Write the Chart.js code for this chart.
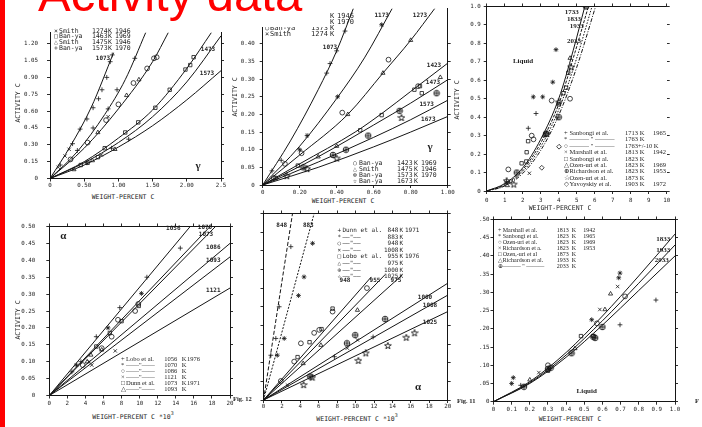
<!DOCTYPE html>
<html>
<head>
<meta charset="utf-8">
<title>Activity data</title>
<script src="https://cdn.jsdelivr.net/npm/chart.js@4.4.1/dist/chart.umd.min.js"></script>
<style>
  body { margin: 0; width: 702px; height: 427px; overflow: hidden; background: #fff; position: relative; }
  canvas { position: absolute; }
  .t { position: absolute; white-space: pre; color: #1e1e1e; }
</style>
</head>
<body>
<script>
// ---------- panel 1 : gamma, activity vs wt% C (0 - 2.5) ----------
const p1XTicks = [0, 0.5, 1, 1.5, 2, 2.5];
const p1XLabels = ['0', '0.50', '1.00', '1.50', '2.00', '2.5'];
const p1YTicks = [0, 0.15, 0.3, 0.45, 0.6, 0.75, 0.9, 1.05, 1.2];
const p1YLabels = ['0', '0.15', '0.30', '0.45', '0.60', '0.75', '0.90', '1.05', '1.20'];
const p1C1073 = [[0, 0], [0.3, 0.29], [0.6, 0.63], [0.93, 1.12]];
const p1C1173 = [[0, 0], [0.4, 0.24], [0.8, 0.57], [1.1, 0.88], [1.4, 1.3]];
const p1C1273 = [[0, 0], [0.5, 0.27], [1.0, 0.62], [1.5, 1.04], [1.73, 1.3]];
const p1C1373 = [[0, 0], [0.5, 0.15], [1.0, 0.36], [1.5, 0.61], [2.0, 0.98], [2.36, 1.3]];
const p1C1473 = [[0, 0], [0.5, 0.14], [1.0, 0.32], [1.5, 0.55], [2.0, 0.86], [2.5, 1.27]];
const p1C1573 = [[0, 0], [0.5, 0.12], [1.0, 0.28], [1.5, 0.47], [2.0, 0.7], [2.5, 0.96]];
const p1Plus = [[0.33, 0.31], [0.44, 0.44], [0.54, 0.53], [0.63, 0.63], [0.71, 0.71], [0.76, 0.79], [0.83, 0.9], [0.88, 1.04], [0.91, 1.1],
  [0.15, 0.12], [0.4, 0.25], [0.63, 0.45], [0.85, 0.62], [0.98, 0.79], [1.24, 1.07], [0.54, 0.14], [0.9, 0.27], [1.15, 0.35]];
const p1Times = [[0.12, 0.1], [0.22, 0.2], [0.28, 0.26], [0.85, 0.55], [0.75, 0.21]];
const p1Square = [[0.8, 0.27], [1.1, 0.41], [1.29, 0.5], [1.54, 0.63], [1.75, 0.79], [1.98, 0.97], [2.05, 1.01], [2.1, 1.08], [0.45, 0.12], [0.55, 0.14], [0.7, 0.19]];
const p1Circle = [[0.3, 0.17], [0.55, 0.32], [0.82, 0.52], [1.0, 0.66], [1.22, 0.85], [1.42, 0.98], [1.52, 1.07], [1.56, 1.08]];
const p1Tri = [[0.7, 0.41], [1.12, 0.74], [1.3, 0.88], [0.62, 0.16], [0.95, 0.26], [0.35, 0.08]];

// ---------- panel 2 : gamma, 0 - 1.0 wt% C ----------
const p2XTicks = [0, 0.2, 0.4, 0.6, 0.8, 1.0];
const p2XLabels = ['0', '0.20', '0.40', '0.60', '0.80', '1.00'];
const p2YTicks = [0, 0.05, 0.1, 0.15, 0.2, 0.25, 0.3, 0.35, 0.4];
const p2YLabels = ['0', '0.05', '0.10', '0.15', '0.20', '0.25', '0.30', '0.35', '0.40'];
const p2C1073 = [[0, 0], [0.15, 0.125], [0.3, 0.27], [0.4, 0.38], [0.49, 0.5]];
const p2C1173 = [[0, 0], [0.2, 0.11], [0.4, 0.245], [0.55, 0.36], [0.7, 0.5]];
const p2C1273 = [[0, 0], [0.2, 0.085], [0.46, 0.2], [0.65, 0.317], [0.8, 0.41], [0.93, 0.5]];
const p2C1423 = [[0, 0], [0.2, 0.06], [0.5, 0.15], [0.65, 0.205], [0.8, 0.265], [1.0, 0.345]];
const p2C1473 = [[0, 0], [0.3, 0.08], [0.6, 0.17], [0.8, 0.232], [1.0, 0.298]];
const p2C1573 = [[0, 0], [0.3, 0.065], [0.6, 0.135], [0.8, 0.185], [1.0, 0.24]];
const p2C1673 = [[0, 0], [0.3, 0.05], [0.6, 0.108], [0.8, 0.15], [1.0, 0.194]];
const p2Plus = [[0.346, 0.317], [0.364, 0.344], [0.4, 0.38], [0.445, 0.436], [0.05, 0.04], [0.1, 0.07]];
const p2Ast = [[0.24, 0.14], [0.405, 0.25], [0.643, 0.454], [0.2, 0.1]];
const p2Circle = [[0.43, 0.205], [0.68, 0.355], [0.21, 0.09], [0.12, 0.06], [0.84, 0.28], [0.06, 0.02]];
const p2Square = [[0.527, 0.155], [0.643, 0.198], [0.82, 0.27], [0.85, 0.28], [0.19, 0.055], [0.07, 0.02], [0.86, 0.26]];
const p2Tri = [[0.4, 0.11], [0.46, 0.2], [0.8, 0.41], [0.96, 0.305], [0.3, 0.08], [0.65, 0.317]];
const p2Oplus = [[0.45, 0.1], [0.57, 0.14], [0.74, 0.21], [0.94, 0.26], [0.38, 0.085], [0.22, 0.05]];
const p2Star = [[0.13, 0.025], [0.24, 0.045], [0.4, 0.075], [0.75, 0.19]];

// ---------- panel 3 : liquid, 0 - 10 wt% C ----------
const p3XTicks = [0, 1, 2, 3, 4, 5, 6, 7, 8, 9, 10];
const p3XLabels = ['0', '1', '2', '3', '4', '5', '6', '7', '8', '9', '10'];
const p3YTicks = [0, 0.1, 0.2, 0.3, 0.4, 0.5, 0.6, 0.7, 0.8, 0.9, 1.0];
const p3YLabels = ['0', '0.1', '0.2', '0.3', '0.4', '0.5', '0.6', '0.7', '0.8', '0.9', '1.0'];
const p3C1733 = [[0, 0], [1, 0.04], [2, 0.125], [3, 0.28], [4, 0.5], [4.8, 0.76], [5.45, 1.0]];
const p3C1833 = [[0, 0], [1, 0.035], [2, 0.115], [3, 0.26], [4, 0.47], [4.9, 0.75], [5.65, 1.0]];
const p3C1933 = [[0, 0], [1, 0.03], [2, 0.105], [3, 0.24], [4, 0.44], [5, 0.72], [5.85, 1.0]];
const p3C2033 = [[0, 0], [1, 0.027], [2, 0.095], [3, 0.22], [4, 0.41], [5, 0.67], [6.05, 1.0]];
const p3Plus = [[2.74, 0.42], [2.31, 0.34], [1.1, 0.05]];
const p3Ast = [[3.85, 0.766], [3.67, 0.59], [2.59, 0.51], [3.11, 0.51]];
const p3Circle = [[3.61, 0.49], [4.63, 0.5], [2.5, 0.3], [1.2, 0.117], [2.6, 0.28]];
const p3Times = [[2.37, 0.096]];
const p3Square = [[2.22, 0.21], [2.3, 0.27], [4.53, 0.64], [4.41, 0.56], [4.26, 0.53], [2.2, 0.16], [4.0, 0.47], [1.94, 0.15]];
const p3Tri = [[4.63, 0.72], [1.15, 0.03], [3.2, 0.3]];
const p3Oplus = [[4.0, 0.4], [5.52, 1.0], [3.3, 0.31], [1.67, 0.1]];
const p3Star = [[4.68, 0.67], [1.5, 0.035], [3.33, 0.31], [4.0, 0.48], [1.11, 0.054]];
const p3Dia = [[4.02, 0.24], [3.06, 0.126]];

// ---------- panel 4 : alpha, wt% C * 10^3 ----------
const p4XTicks = [0, 2, 4, 6, 8, 10, 12, 14, 16, 18, 20];
const p4XLabels = ['0', '2', '4', '6', '8', '10', '12', '14', '16', '18', '20'];
const p4YTicks = [0, 0.05, 0.1, 0.15, 0.2, 0.25, 0.3, 0.35, 0.4, 0.45, 0.5];
const p4YLabels = ['0', '0.05', '0.10', '0.15', '0.20', '0.25', '0.30', '0.35', '0.40', '0.45', '0.50'];
const p4L1056 = [[0, 0], [15.6, 0.5]];
const p4L1070 = [[0, 0], [17.8, 0.5]];
const p4L1073 = [[0, 0], [18.4, 0.5]];
const p4L1086 = [[0, 0], [20, 0.45]];
const p4L1093 = [[0, 0], [20, 0.41]];
const p4L1121 = [[0, 0], [20, 0.318]];
const p4Plus = [[14.5, 0.436], [10.8, 0.35], [7.8, 0.26], [5.2, 0.174], [2.5, 0.07], [3.5, 0.1]];
const p4Ast = [[10.2, 0.302], [6.5, 0.2], [3.0, 0.09]];
const p4Circle = [[9.85, 0.271], [7.6, 0.224], [6.9, 0.174], [9.5, 0.25], [5.8, 0.14], [3.7, 0.09]];
const p4Times = [[7.3, 0.132], [4.7, 0.09], [4.4, 0.1]];
const p4Square = [[8.0, 0.22], [6.7, 0.185], [5.2, 0.145], [9.9, 0.265]];
const p4Tri = [[4.2, 0.1], [5.8, 0.135], [4.6, 0.12]];

// ---------- panel 5 : alpha, lower temperatures ----------
const p5XTicks = p4XTicks;
const p5XLabels = p4XLabels;
const p5YTicks = p4YTicks;
const p5L848 = [[0, 0], [3.15, 0.5]];
const p5L883 = [[0, 0], [5.5, 0.5]];
const p5L948 = [[0, 0], [11.7, 0.33]];
const p5L955 = [[0, 0], [13.2, 0.336]];
const p5L975 = [[0, 0], [15.1, 0.336]];
const p5L1000 = [[0, 0], [20, 0.313]];
const p5L1008 = [[0, 0], [20, 0.281]];
const p5L1025 = [[0, 0], [20, 0.237]];
const p5Plus = [[2.97, 0.411], [1.7, 0.25], [1.34, 0.165], [0.8, 0.12], [11.9, 0.169], [7.7, 0.116]];
const p5Ast = [[5.33, 0.42], [4.4, 0.33], [3.8, 0.28], [2.25, 0.165], [1.5, 0.12]];
const p5Circle = [[11.23, 0.3], [7.5, 0.237], [6.05, 0.188], [4.06, 0.152], [3.33, 0.103], [1.88, 0.051], [5.5, 0.18]];
const p5Times = [[10.2, 0.161], [9.1, 0.139], [2.6, 0.04]];
const p5Square = [[7.5, 0.245], [6.3, 0.19], [5.0, 0.155], [3.7, 0.115]];
const p5Tri = [[10.2, 0.241], [6.23, 0.147], [4.31, 0.098]];
const p5Oplus = [[13.2, 0.217], [9.96, 0.174], [9.06, 0.152], [5.07, 0.063]];
const p5Star = [[16.4, 0.179], [15.5, 0.167], [13.5, 0.145], [11.1, 0.125], [10.3, 0.105], [5.3, 0.06], [4.35, 0.04]];

// ---------- panel 6 : liquid, 0 - 1.0 wt% C ----------
const p6XTicks = [0, 0.1, 0.2, 0.3, 0.4, 0.5, 0.6, 0.7, 0.8, 0.9, 1.0];
const p6XLabels = ['0', '0.1', '0.2', '0.3', '0.4', '0.5', '0.6', '0.7', '0.8', '0.9', '1.0'];
const p6YTicks = p4YTicks;
const p6YLabels = p4YLabels;
const p6C1833 = [[0, 0], [0.2, 0.055], [0.4, 0.135], [0.6, 0.235], [0.8, 0.345], [1.0, 0.46]];
const p6C1933 = [[0, 0], [0.2, 0.052], [0.4, 0.128], [0.6, 0.222], [0.8, 0.325], [1.0, 0.43]];
const p6C2033 = [[0, 0], [0.2, 0.05], [0.4, 0.122], [0.6, 0.21], [0.8, 0.305], [1.0, 0.4]];
const p6Plus = [[0.697, 0.211], [0.895, 0.279], [0.15, 0.045]];
const p6Ast = [[0.697, 0.353], [0.69, 0.34], [0.541, 0.225], [0.109, 0.066], [0.1, 0.05]];
const p6Circle = [[0.725, 0.289], [0.57, 0.215], [0.3, 0.1]];
const p6Times = [[0.586, 0.253], [0.684, 0.316], [0.25, 0.08]];
const p6Square = [[0.482, 0.18], [0.3, 0.085], [0.55, 0.18]];
const p6Tri = [[0.645, 0.296], [0.614, 0.253], [0.449, 0.146], [0.2, 0.06]];
const p6Oplus = [[0.6, 0.205], [0.55, 0.178], [0.43, 0.133], [0.315, 0.093], [0.168, 0.041], [0.3, 0.09], [0.56, 0.175]];

const INK = '#151515';
const MONO = "'DejaVu Sans Mono', monospace";
const SERIF = "'Liberation Serif', 'DejaVu Serif', serif";

// symbols chart.js has no built-in style for
function mark(kind) {
  const c = document.createElement('canvas');
  c.width = c.height = 8;
  const g = c.getContext('2d');
  g.strokeStyle = INK; g.lineWidth = 0.9;
  g.beginPath();
  if (kind === 'oplus') {
    g.arc(4, 4, 2.8, 0, Math.PI * 2);
    g.moveTo(1.2, 4); g.lineTo(6.8, 4); g.moveTo(4, 1.2); g.lineTo(4, 6.8);
  } else {
    for (let i = 0; i < 10; i++) {
      const r = i % 2 ? 1.4 : 3.5, a = -Math.PI / 2 + i * Math.PI / 5;
      g.lineTo(4 + r * Math.cos(a), 4 + r * Math.sin(a));
    }
    g.closePath();
  }
  g.stroke();
  return c;
}
const STYLE = { plus: 'cross', times: 'crossRot', ast: 'star', circ: 'circle', sq: 'rect', tri: 'triangle', dia: 'rectRot', oplus: mark('oplus'), star5: mark('star5') };

function panel(p) {
  const cl = Math.floor(p.box.l - p.pad.l), ct = Math.floor(p.box.t - p.pad.t);
  const W = Math.ceil(p.box.r + p.pad.r) - cl, H = Math.ceil(p.box.b + p.pad.b) - ct;
  const L = p.box.l - cl, T = p.box.t - ct, R = cl + W - p.box.r, B = ct + H - p.box.b;
  const cv = document.createElement('canvas');
  cv.width = W; cv.height = H;
  Object.assign(cv.style, { left: cl + 'px', top: ct + 'px', width: W + 'px', height: H + 'px' });
  document.body.appendChild(cv);

  const pts = a => a.map(([x, y]) => ({ x, y }));
  const datasets = p.curves.map(c => ({
    data: pts(c.pts), showLine: true, pointRadius: 0, borderColor: INK, borderWidth: 1,
    borderDash: c.dash || [], cubicInterpolationMode: 'monotone'
  })).concat(p.marks.map(m => ({
    data: pts(m.pts), showLine: false, pointStyle: STYLE[m.s], pointRadius: 2.4,
    borderColor: INK, borderWidth: 0.8, backgroundColor: 'rgba(0,0,0,0)'
  })));

  const axis = (a, pos, size, labels, border) => ({
    type: 'linear', position: pos, axis: (pos === 'top' || pos === 'bottom') ? 'x' : 'y',
    min: a.min, max: a.max,
    afterBuildTicks: s => { s.ticks = a.ticks.map(v => ({ value: v })); },
    afterFit: s => { if (pos === 'left' || pos === 'right') s.width = size; else s.height = size; },
    ticks: {
      display: labels, autoSkip: false, maxRotation: 0, minRotation: 0, padding: a.pad || 0,
      color: '#1e1e1e', font: { family: MONO, size: 5.8 }, callback: (v, i) => (a.labels ? a.labels[i] : '')
    },
    grid: { drawOnChartArea: false, tickLength: 3, color: INK, lineWidth: 0.9 },
    border: { display: border, color: INK, width: 1 }
  });
  const scales = {
    x: axis(p.x, 'bottom', B, true, true),
    y: axis(p.y, 'left', L, p.yLabels !== false, true),
    y2: axis(p.y, 'right', R, false, p.rightBorder !== false)
  };
  if (p.top) scales.x2 = axis(p.x, 'top', T, false, true);

  new Chart(cv, {
    type: 'scatter',
    data: { datasets },
    options: {
      responsive: false, animation: false, devicePixelRatio: 1, events: [],
      layout: { padding: { top: p.top ? 0 : T } },
      plugins: { legend: { display: false }, tooltip: { enabled: false } },
      scales
    }
  });
}

function txt(s, x, y, o = {}) {
  const d = document.createElement('div');
  const size = o.size || 6;
  d.className = 't';
  if (o.html) d.innerHTML = s; else d.textContent = s;
  d.style.left = x + 'px';
  d.style.top = (y - size / 2) + 'px';
  d.style.fontSize = size + 'px';
  d.style.lineHeight = size + 'px';
  d.style.fontFamily = o.font || MONO;
  d.style.fontWeight = o.bold ? 'bold' : 'normal';
  if (o.color) d.style.color = o.color;
  if (o.align === 'c') d.style.transform = 'translateX(-50%)';
  if (o.rot) { d.style.top = y + 'px'; d.style.transform = 'translate(-50%,-50%) rotate(-90deg)'; }
  document.body.appendChild(d);
}
function legend(rows, cols, y0, dy, o) {
  rows.forEach((r, i) => r.forEach((s, j) => { if (s) txt(s, cols[j], y0 + i * dy, o); }));
}
const lbl = (list, o) => list.forEach(([s, x, y]) => txt(s, x, y, Object.assign({ align: 'c', bold: true, size: 6 }, o)));

// ---------- charts ----------
panel({
  box: { l: 50, t: 30.3, r: 221, b: 179 }, pad: { l: 40, t: 10, r: 10, b: 12 },
  x: { min: 0, max: 2.5, ticks: p1XTicks, labels: p1XLabels, pad: 0 },
  y: { min: 0, max: 1.3, ticks: p1YTicks, labels: p1YLabels, pad: 9 },
  curves: [{ pts: p1C1073 }, { pts: p1C1173 }, { pts: p1C1273 }, { pts: p1C1373 }, { pts: p1C1473 }, { pts: p1C1573 }],
  marks: [{ pts: p1Plus, s: 'plus' }, { pts: p1Times, s: 'times' }, { pts: p1Square, s: 'sq' }, { pts: p1Circle, s: 'circ' }, { pts: p1Tri, s: 'tri' }]
});
panel({
  box: { l: 262.7, t: 6, r: 447.7, b: 185 }, pad: { l: 30, t: 6, r: 10, b: 12 },
  x: { min: 0, max: 1.0, ticks: p2XTicks, labels: p2XLabels, pad: 1.5 },
  y: { min: 0, max: 0.5, ticks: p2YTicks, labels: p2YLabels, pad: 5 },
  curves: [{ pts: p2C1073 }, { pts: p2C1173 }, { pts: p2C1273 }, { pts: p2C1423 }, { pts: p2C1473 }, { pts: p2C1573 }, { pts: p2C1673 }],
  marks: [{ pts: p2Plus, s: 'plus' }, { pts: p2Ast, s: 'ast' }, { pts: p2Circle, s: 'circ' }, { pts: p2Square, s: 'sq' },
    { pts: p2Tri, s: 'tri' }, { pts: p2Oplus, s: 'oplus' }, { pts: p2Star, s: 'star5' }]
});
panel({
  box: { l: 486.7, t: 6, r: 666.7, b: 191 }, pad: { l: 22, t: 6, r: 10, b: 14 }, top: true, rightBorder: false,
  x: { min: 0, max: 10, ticks: p3XTicks, labels: p3XLabels, pad: 3 },
  y: { min: 0, max: 1.0, ticks: p3YTicks, labels: p3YLabels, pad: 3 },
  curves: [{ pts: p3C1733 }, { pts: p3C1833, dash: [3, 1.5] }, { pts: p3C1933, dash: [1.5, 1.5] }, { pts: p3C2033, dash: [4, 1.5, 1, 1.5] }],
  marks: [{ pts: p3Plus, s: 'plus' }, { pts: p3Ast, s: 'ast' }, { pts: p3Circle, s: 'circ' }, { pts: p3Times, s: 'times' }, { pts: p3Square, s: 'sq' },
    { pts: p3Tri, s: 'tri' }, { pts: p3Oplus, s: 'oplus' }, { pts: p3Star, s: 'star5' }, { pts: p3Dia, s: 'dia' }]
});
panel({
  box: { l: 49.3, t: 220.7, r: 230, b: 397.7 }, pad: { l: 40, t: 8, r: 8, b: 12 }, top: true,
  x: { min: 0, max: 20, ticks: p4XTicks, labels: p4XLabels, pad: 1 },
  y: { min: 0, max: 0.5, ticks: p4YTicks, labels: p4YLabels, pad: 11 },
  curves: [{ pts: p4L1056 }, { pts: p4L1070 }, { pts: p4L1073 }, { pts: p4L1086 }, { pts: p4L1093 }, { pts: p4L1121 }],
  marks: [{ pts: p4Plus, s: 'plus' }, { pts: p4Ast, s: 'ast' }, { pts: p4Circle, s: 'circ' }, { pts: p4Times, s: 'times' }, { pts: p4Square, s: 'sq' }, { pts: p4Tri, s: 'tri' }]
});
panel({
  box: { l: 263.5, t: 213.5, r: 447.7, b: 400 }, pad: { l: 6, t: 8, r: 8, b: 12 }, top: true, yLabels: false,
  x: { min: 0, max: 20, ticks: p5XTicks, labels: p5XLabels, pad: 0.5 },
  y: { min: 0, max: 0.5, ticks: p5YTicks },
  curves: [{ pts: p5L848, dash: [4, 2] }, { pts: p5L883, dash: [2, 1.5] }, { pts: p5L948 }, { pts: p5L955 }, { pts: p5L975 },
    { pts: p5L1000 }, { pts: p5L1008 }, { pts: p5L1025 }],
  marks: [{ pts: p5Plus, s: 'plus' }, { pts: p5Ast, s: 'ast' }, { pts: p5Circle, s: 'circ' }, { pts: p5Times, s: 'times' }, { pts: p5Square, s: 'sq' },
    { pts: p5Tri, s: 'tri' }, { pts: p5Oplus, s: 'oplus' }, { pts: p5Star, s: 'star5' }]
});
panel({
  box: { l: 493.5, t: 219.5, r: 675, b: 401.7 }, pad: { l: 13, t: 8, r: 10, b: 12 }, top: true,
  x: { min: 0, max: 1.0, ticks: p6XTicks, labels: p6XLabels, pad: 1.5 },
  y: { min: 0, max: 0.5, ticks: p6YTicks, labels: p6YLabels, pad: 1 },
  curves: [{ pts: p6C1833 }, { pts: p6C1933 }, { pts: p6C2033 }],
  marks: [{ pts: p6Plus, s: 'plus' }, { pts: p6Ast, s: 'ast' }, { pts: p6Circle, s: 'circ' }, { pts: p6Times, s: 'times' }, { pts: p6Square, s: 'sq' },
    { pts: p6Tri, s: 'tri' }, { pts: p6Oplus, s: 'oplus' }]
});

// ---------- texts ----------
const SUP3 = 'WEIGHT-PERCENT C *10<sup style="font-size:5px;line-height:0;vertical-align:4px">3</sup>';
const ttl = { size: 6.5, align: 'c' };
txt('WEIGHT-PERCENT C', 123, 197, ttl);
txt('WEIGHT-PERCENT C', 343, 201.5, ttl);
txt('WEIGHT-PERCENT C', 560, 208.5, ttl);
txt(SUP3, 133, 416, Object.assign({ html: true }, ttl));
txt(SUP3, 357, 418, Object.assign({ html: true }, ttl));
txt('WEIGHT-PERCENT C', 570, 419.5, ttl);
[[18, 103], [235, 97], [457, 100], [18.3, 320]].forEach(([x, y]) => txt('ACTIVITY C', x, y, { size: 6.5, rot: true }));

// panel 1
legend([['×', 'Smith', '1274', 'K', '1946'], ['□', 'Ban-ya', '1463', 'K', '1969'], ['△', 'Smith', '1475', 'K', '1946'], ['+', 'Ban-ya', '1573', 'K', '1970']],
  [54, 59, 92, 108, 115], 31, 5.7, { size: 6.5 });
lbl([['1073', 103, 58], ['1473', 208, 49], ['1573', 207, 72.5]]);
txt('γ', 198, 165, { size: 11, font: SERIF, bold: true, align: 'c' });

// panel 2
legend([['+', 'Smith', '1073', 'K', '1946'], ['*', 'Ban-ya', '1173', 'K', '1970'], ['○', 'Ban-ya', '1373', 'K', ''], ['×', 'Smith', '1274', 'K', '']],
  [265, 270, 311, 330, 337], 16, 6, { size: 7 });
legend([['○', 'Ban-ya', '1423', 'K', '1969'], ['△', 'Smith', '1475', 'K', '1946'], ['⊕', 'Ban-ya', '1573', 'K', '1970'], ['☆', 'Ban-ya', '1673', 'K', '']],
  [353, 359, 397, 414, 421], 163.3, 6, { size: 6.5 });
lbl([['1073', 330, 46.7], ['1173', 381.7, 15], ['1273', 420, 15], ['1423', 434, 65], ['1473', 433, 81.7], ['1573', 426.7, 104], ['1673', 428.3, 119]]);
txt('γ', 430, 146, { size: 11, font: SERIF, bold: true, align: 'c' });

// panel 3
legend([['+', 'Sanbongi et al.', '1713 K', '1965'], ['*', '——— " ———', '1763 K', ''], ['○', '——— " ———', '1763+/-10 K', ''],
  ['×', 'Marshall et al.', '1813 K', '1942'], ['□', 'Sanbongi et al.', '1823 K', ''], ['△', 'Ozen-uri et al.', '1823 K', '1969'],
  ['⊕', 'Richardson et al.', '1823 K', '1953'], ['☆', 'Ozen-uri et al.', '1873 K', ''], ['◇', 'Yavoyskiy et al.', '1903 K', '1972']],
  [564, 569.5, 625, 653], 133, 6.45, { size: 6.5, font: SERIF });
txt('Liquid', 523, 61.7, { size: 7, font: SERIF, bold: true, align: 'c' });
lbl([['1733', 571.7, 12.7], ['1833', 574, 19.3], ['1933', 576.7, 26], ['2033', 574, 41.7]], { font: SERIF, size: 7 });

// panel 4
legend([['+', 'Lobo et al.', '1056', 'K', '1976'], ['*', '——"——', '1070', 'K', ''], ['○', '——"——', '1086', 'K', ''],
  ['×', '——"——', '1121', 'K', ''], ['□', 'Dunn et al.', '1073', 'K', '1971'], ['△', '——"——', '1093', 'K', '']],
  [121, 126, 164.3, 181.7, 187], 359.3, 5.95, { size: 6.5, font: SERIF });
lbl([['1056', 173.3, 228.3], ['1070', 205, 226.7], ['1073', 206, 234], ['1086', 213.3, 246.7], ['1093', 213.3, 260], ['1121', 213.3, 290]]);
txt('α', 63.3, 235, { size: 11, font: SERIF, bold: true, align: 'c' });

// panel 5
legend([['+', 'Dunn et al.', ' 848', 'K', '1971'], ['*', '——"——', ' 883', 'K', ''], ['○', '——"——', ' 948', 'K', ''],
  ['×', '——"——', '1008', 'K', ''], ['□', 'Lobo et al.', ' 955', 'K', '1976'], ['△', '——"——', ' 975', 'K', ''],
  ['⊕', '——"——', '1000', 'K', ''], ['☆', '——"——', '1025', 'K', '']],
  [337.5, 342.5, 384, 399.5, 405], 230, 6.6, { size: 6 });
lbl([['848', 281.7, 225], ['883', 308.3, 225], ['948', 345, 280], ['955', 375, 280], ['975', 396, 280],
  ['1000', 425, 296.7], ['1008', 430, 305], ['1025', 430, 321.7]]);
txt('α', 418, 386, { size: 11, font: SERIF, bold: true, align: 'c' });
txt('Fig. 12', 233, 399, { size: 6.5, font: SERIF, bold: true });

// panel 6
legend([['+', 'Marshall et al.', '1813', 'K', '1942'], ['*', 'Sanbongi et al.', '1823', 'K', '1965'], ['○', 'Ozen-uri et al.', '1823', 'K', '1969'],
  ['×', 'Richardson et a.', '1823', 'K', '1953'], ['□', 'Ozen,-uri et al', '1873', 'K', ''], ['△', 'Richardson et al.', '1933', 'K', ''],
  ['⊕', '——— " ———', '2033', 'K', '']],
  [498, 502.7, 556.7, 571.7, 583.3], 230, 5.95, { size: 6, font: SERIF });
lbl([['1833', 663.3, 239], ['1933', 663.3, 250], ['2033', 661.7, 260.7]], { font: SERIF, size: 7 });
txt('Liquid', 586.7, 391.7, { size: 7, font: SERIF, bold: true, align: 'c' });
txt('Fig. 11', 457, 401.5, { size: 6.5, font: SERIF, bold: true });
txt('F', 695, 401.5, { size: 6.5, font: SERIF, bold: true });

// slide title band and red edge
const band = document.createElement('div');
Object.assign(band.style, { position: 'absolute', left: '5px', top: '0px', width: '324px', height: '26.5px', background: '#fff' });
document.body.appendChild(band);
txt('Activity data', 38, -5.5, { size: 49, font: "'Liberation Sans', Arial, sans-serif", color: '#f00' });
const edge = document.createElement('div');
Object.assign(edge.style, { position: 'absolute', left: '0px', top: '0px', width: '5px', height: '427px', background: '#f00' });
document.body.appendChild(edge);
</script>
</body>
</html>
